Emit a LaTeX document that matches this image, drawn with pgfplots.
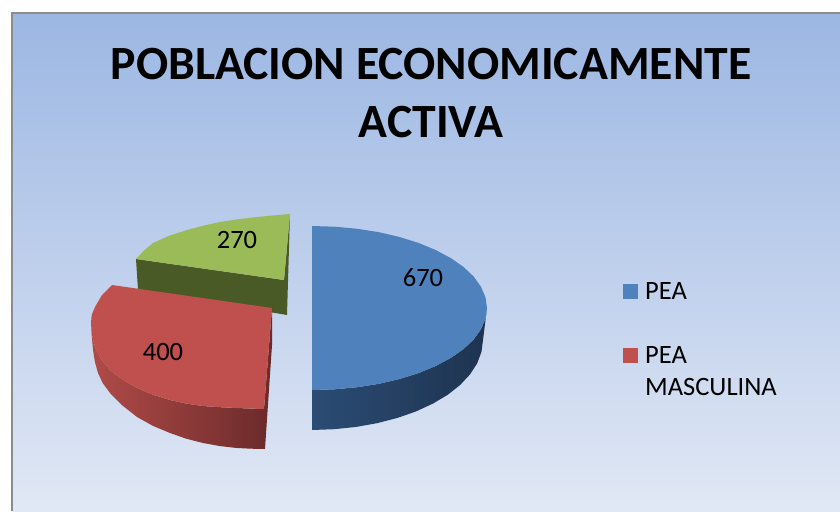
\documentclass[border=0pt]{standalone}
\usepackage{pgfplots}
\pgfplotsset{compat=1.18}
\usepackage{fontspec}
\setmainfont{Carlito}
\definecolor{bgtop}{HTML}{9CB7E3}
\definecolor{bgbot}{HTML}{E1E8F5}
\definecolor{frame}{HTML}{8C8C8C}
\definecolor{bluetop}{HTML}{4F81BD}
\definecolor{blueL}{HTML}{2B4C74}
\definecolor{blueR}{HTML}{1E3350}
\definecolor{redtop}{HTML}{C0504D}
\definecolor{redL}{HTML}{B04B48}
\definecolor{redR}{HTML}{6B2A2A}
\definecolor{greentop}{HTML}{9BBB59}
\definecolor{greenside}{HTML}{4A5A26}
\begin{document}
\begin{tikzpicture}
\begin{axis}[
  scale only axis, width=840pt, height=511pt,
  xmin=0, xmax=840, ymin=0, ymax=511, y dir=reverse,
  axis lines=none, no markers,
  every axis plot/.append style={forget plot},
]
% page
\addplot[draw=none, fill=white] coordinates {(0,0)(840,0)(840,511)(0,511)} --cycle;
% chart area
\addplot[draw=none, top color=bgtop, bottom color=bgbot] coordinates {(12,13)(840,13)(840,511)(12,511)} --cycle;
\addplot[frame, line width=2pt] coordinates {(12,511)(12,13)(840,13)};
% green slice (270)
\addplot[draw=none, fill=greenside] coordinates {(136,259)(284,280)(290,214)(287,315)(138,290)} --cycle;
\addplot[draw=none, fill=greentop] coordinates {(136,259)(144,250.5)(153,243)(169.2,235.7)(187,230)(203.3,225.6)(220,222)(238.3,219.2)(257,217)(273.5,215.4)(290,214)(284,280)} --cycle;
% red slice (400)
\addplot[draw=none, left color=redL, right color=redR] coordinates {(91,323)(91.8,336.5)(93,350)(94.9,361.9)(98,373)(102.6,382.9)(110,393)(122.2,405.3)(137,417)(153,425.9)(170,433)(186.2,438.7)(203,443)(220,446.1)(237,448)(251,448.7)(265,449)(272,345)(272,308)(264,409)(250.5,408.6)(237,408)(220,407.2)(203,406)(186.25,403.6)(170,400)(153.1,394.75)(137,388)(122.4,379.7)(110,370)(101,358.9)(95,347)(91.8,334.6)} --cycle;
\addplot[draw=none, fill=redtop] coordinates {(112,285)(102,295)(95,307)(91.7,314.9)(91,323)(91.8,334.6)(95,347)(101,358.9)(110,370)(122.4,379.7)(137,388)(153.1,394.75)(170,400)(186.25,403.6)(203,406)(220,407.2)(237,408)(250.5,408.6)(264,409)(272,308)} --cycle;
% blue slice (670)
\addplot[draw=none, left color=blueL, right color=blueR] coordinates {(312,390)(312,430)(334.3,429.2)(356.3,426.9)(377.4,423.1)(397.5,417.9)(416.1,411.4)(432.9,403.6)(447.7,394.8)(460.1,385)(470,374.4)(477.2,363.3)(481.5,351.7)(483,340)(487,308)(485.5,318.7)(481,329.2)(473.7,339.4)(463.6,349)(450.8,357.9)(435.7,366)(418.5,373.1)(399.5,379)(379,383.8)(357.3,387.2)(334.8,389.3)} --cycle;
\addplot[draw=none, fill=bluetop] coordinates {(312,226)(334.8,226.7)(357.3,228.8)(379,232.2)(399.5,237)(418.5,242.9)(435.7,250)(450.8,258.1)(463.6,267)(473.7,276.6)(481,286.8)(485.5,297.3)(487,308)(485.5,318.7)(481,329.2)(473.7,339.4)(463.6,349)(450.8,357.9)(435.7,366)(418.5,373.1)(399.5,379)(379,383.8)(357.3,387.2)(334.8,389.3)(312,390)} --cycle;
% legend keys
\addplot[draw=none, fill=bluetop] coordinates {(623,284)(638,284)(638,299)(623,299)} --cycle;
\addplot[draw=none, fill=redtop] coordinates {(623,348)(638,348)(638,363)(623,363)} --cycle;
% text
\node[font=\fontsize{47.7}{47.7}\selectfont\bfseries, inner sep=0pt] at (axis cs:431,64) {POBLACION ECONOMICAMENTE};
\node[font=\fontsize{47.7}{47.7}\selectfont\bfseries, inner sep=0pt] at (axis cs:431,122) {ACTIVA};
\node[font=\fontsize{26.5}{26.5}\selectfont, inner sep=0pt] at (axis cs:423,278) {670};
\node[font=\fontsize{26.5}{26.5}\selectfont, inner sep=0pt] at (axis cs:163,352) {400};
\node[font=\fontsize{26.5}{26.5}\selectfont, inner sep=0pt] at (axis cs:237,240) {270};
\node[font=\fontsize{26.5}{26.5}\selectfont, inner sep=0pt, anchor=west] at (axis cs:645,291) {PEA};
\node[font=\fontsize{26.5}{26.5}\selectfont, inner sep=0pt, anchor=west] at (axis cs:645,355) {PEA};
\node[font=\fontsize{26.5}{26.5}\selectfont, inner sep=0pt, anchor=west] at (axis cs:645,387) {MASCULINA};
\end{axis}
\end{tikzpicture}
\end{document}
